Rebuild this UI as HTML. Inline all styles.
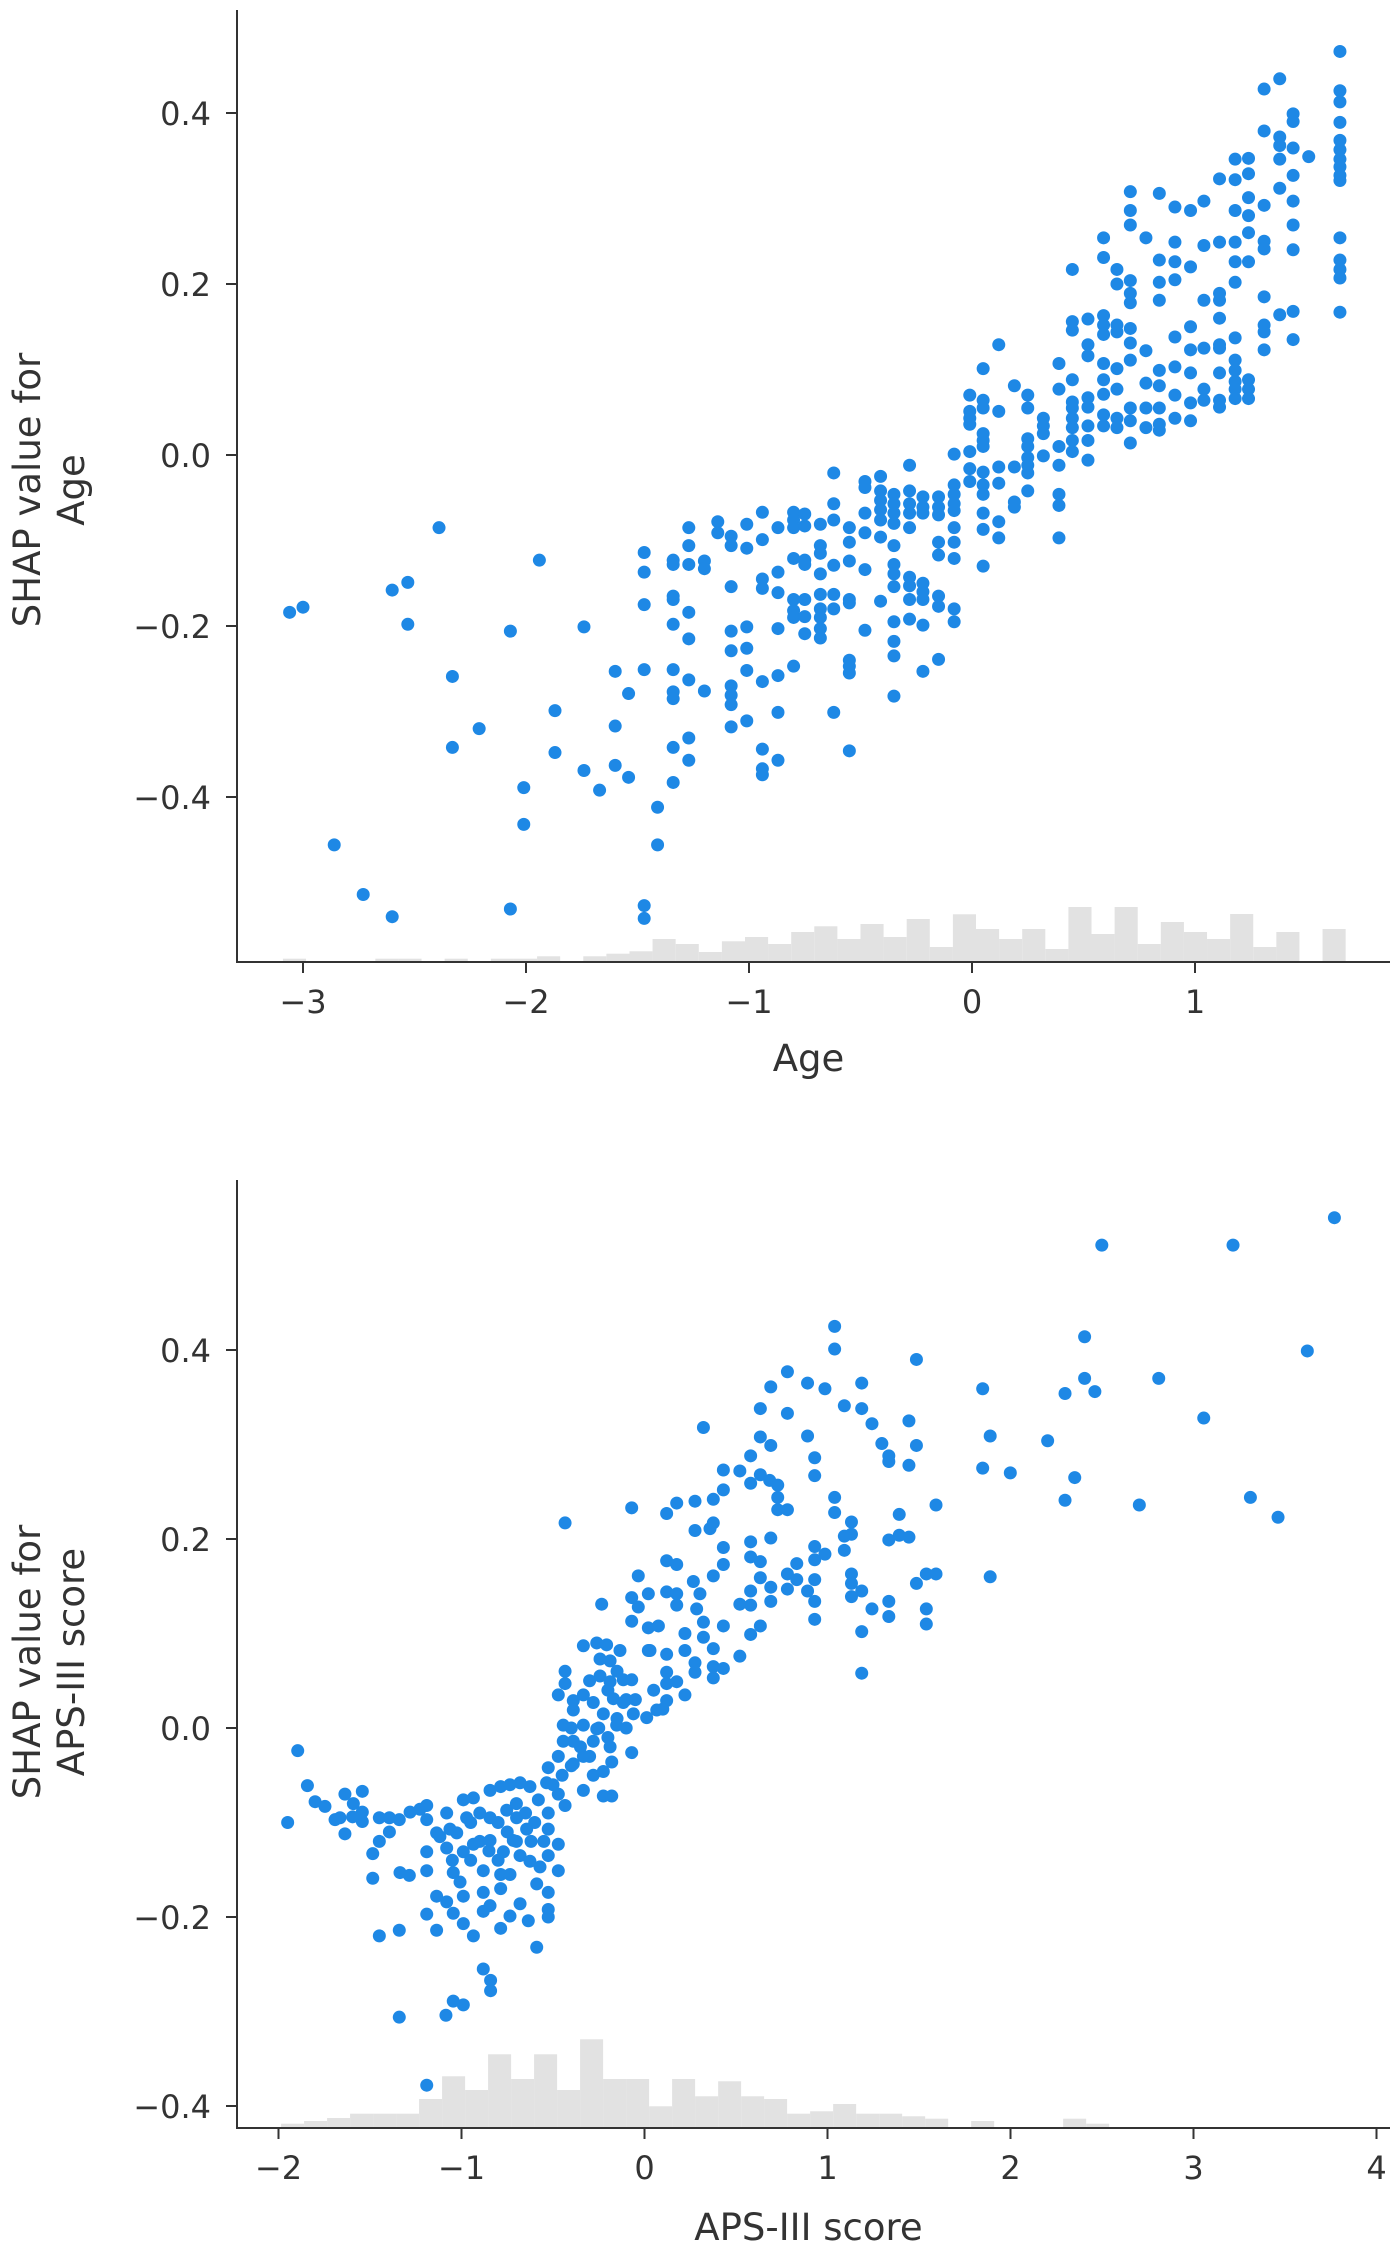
<!DOCTYPE html>
<html><head><meta charset="utf-8"><style>
html,body{margin:0;padding:0;background:#fff;}
svg{display:block;font-family:"DejaVu Sans","Liberation Sans",sans-serif;}
</style></head><body>
<svg id="fig" width="1400" height="2242" viewBox="0 0 1400 2242" xmlns="http://www.w3.org/2000/svg"></svg>
<script>
// ---------- Chart 1: Age ----------
const ageXTicks = [-3, -2, -1, 0, 1];
const ageYTicks = [0.4, 0.2, 0.0, -0.2, -0.4];
const ageHistStart = -3.09;
const ageHistWidth = 0.1036;
const ageHistCounts = [3.3,0,0.5,0.5,3.3,3.3,0,3.3,0,3.3,3.3,5.7,0,5.7,8.3,10.7,23,18,10,20.7,25,18,30,35.7,23,38,25,43,15,47.7,33,23,33,13,55,28,55,18,40,30,23,48,15,30,0,33];
const ageX = [-3.06,-3.00,-2.86,-2.73,-2.60,-2.60,-2.53,-2.53,-2.39,-2.33,-2.33,-2.21,-2.07,-2.07,-2.01,-2.01,-1.94,-1.87,-1.87,-1.74,-1.74,-1.67,-1.60,-1.60,-1.60,-1.54,-1.54,
-1.47,-1.47,-1.47,-1.47,-1.47,-1.47,-1.41,-1.41,
-1.34,-1.34,-1.34,-1.34,-1.34,-1.34,-1.34,-1.34,-1.34,-1.34,
-1.27,-1.27,-1.27,-1.27,-1.27,-1.27,-1.27,-1.27,
-1.20,-1.20,-1.20,-1.14,-1.14,
-1.08,-1.08,-1.08,-1.08,-1.08,-1.08,-1.08,-1.08,-1.08,
-1.01,-1.01,-1.01,-1.01,-1.01,-1.01,
-0.94,-0.94,-0.94,-0.94,-0.94,-0.94,-0.94,-0.94,
-0.87,-0.87,-0.87,-0.87,-0.87,-0.87,-0.87,
-0.80,-0.80,-0.80,-0.80,-0.80,-0.80,-0.80,-0.80,
-0.75,-0.75,-0.75,-0.75,-0.75,-0.75,-0.75,
-0.68,-0.68,-0.68,-0.68,-0.68,-0.68,-0.68,-0.68,-0.68,
-0.62,-0.62,-0.62,-0.62,-0.62,-0.62,-0.62,
-0.55,-0.55,-0.55,-0.55,-0.55,-0.55,-0.55,-0.55,-0.55,
-0.48,-0.48,-0.48,-0.48,-0.48,-0.48,
-0.41,-0.41,-0.41,-0.41,-0.41,-0.41,-0.41,
-0.35,-0.35,-0.35,-0.35,-0.35,-0.35,-0.35,-0.35,-0.35,-0.35,-0.35,-0.35,
-0.28,-0.28,-0.28,-0.28,-0.28,-0.28,-0.28,-0.28,-0.28,
-0.22,-0.22,-0.22,-0.22,-0.22,-0.22,-0.22,-0.22,
-0.15,-0.15,-0.15,-0.15,-0.15,-0.15,-0.15,-0.15,
-0.08,-0.08,-0.08,-0.08,-0.08,-0.08,-0.08,-0.08,-0.08,-0.08,
-0.01,-0.01,-0.01,-0.01,-0.01,-0.01,-0.01,
0.05,0.05,0.05,0.05,0.05,0.05,0.05,0.05,0.05,0.05,0.05,0.05,
0.12,0.12,0.12,0.12,0.12,0.12,
0.19,0.19,0.19,0.19,
0.25,0.25,0.25,0.25,0.25,0.25,0.25,0.25,
0.32,0.32,0.32,0.32,
0.39,0.39,0.39,0.39,0.39,0.39,0.39,
0.45,0.45,0.45,0.45,0.45,0.45,0.45,0.45,0.45,0.45,
0.52,0.52,0.52,0.52,0.52,0.52,0.52,0.52,
0.59,0.59,0.59,0.59,0.59,0.59,0.59,0.59,0.59,0.59,
0.65,0.65,0.65,0.65,0.65,0.65,0.65,0.65,
0.71,0.71,0.71,0.71,0.71,0.71,0.71,0.71,0.71,0.71,0.71,0.71,
0.78,0.78,0.78,0.78,0.78,
0.84,0.84,0.84,0.84,0.84,0.84,0.84,0.84,0.84,
0.91,0.91,0.91,0.91,0.91,0.91,0.91,0.91,
0.98,0.98,0.98,0.98,0.98,0.98,0.98,
1.04,1.04,1.04,1.04,1.04,1.04,
1.11,1.11,1.11,1.11,1.11,1.11,1.11,1.11,1.11,1.11,
1.18,1.18,1.18,1.18,1.18,1.18,1.18,1.18,1.18,1.18,1.18,1.18,
1.24,1.24,1.24,1.24,1.24,1.24,1.24,1.24,1.24,
1.31,1.31,1.31,1.31,1.31,1.31,1.31,1.31,1.31,
1.38,1.38,1.38,1.38,1.38,1.38,
1.44,1.44,1.44,1.44,1.44,1.44,1.44,1.44,1.44,
1.51,
1.65,1.65,1.65,1.65,1.65,1.65,1.65,1.65,1.65,1.65,1.65,1.65,1.65,1.65,1.65];
const ageY = [-0.184,-0.178,-0.456,-0.514,-0.158,-0.540,-0.149,-0.198,-0.085,-0.259,-0.342,-0.320,-0.206,-0.531,-0.389,-0.432,-0.123,-0.299,-0.348,-0.201,-0.369,-0.392,-0.253,-0.317,-0.363,-0.279,-0.377,
-0.114,-0.137,-0.175,-0.251,-0.527,-0.542,-0.412,-0.456,
-0.123,-0.128,-0.165,-0.169,-0.198,-0.251,-0.277,-0.285,-0.342,-0.383,
-0.085,-0.106,-0.128,-0.184,-0.215,-0.263,-0.331,-0.357,
-0.124,-0.133,-0.276,-0.078,-0.091,
-0.095,-0.106,-0.154,-0.206,-0.229,-0.270,-0.281,-0.292,-0.318,
-0.081,-0.109,-0.201,-0.226,-0.252,-0.311,
-0.067,-0.099,-0.145,-0.156,-0.265,-0.344,-0.367,-0.374,
-0.085,-0.137,-0.161,-0.203,-0.258,-0.301,-0.357,
-0.067,-0.076,-0.085,-0.121,-0.169,-0.182,-0.190,-0.247,
-0.069,-0.083,-0.123,-0.128,-0.169,-0.189,-0.209,
-0.081,-0.106,-0.115,-0.139,-0.163,-0.180,-0.190,-0.203,-0.214,
-0.021,-0.057,-0.076,-0.129,-0.163,-0.180,-0.301,
-0.085,-0.102,-0.124,-0.169,-0.173,-0.240,-0.247,-0.255,-0.346,
-0.031,-0.038,-0.068,-0.091,-0.134,-0.205,
-0.025,-0.042,-0.053,-0.064,-0.076,-0.096,-0.171,
-0.046,-0.057,-0.068,-0.080,-0.106,-0.128,-0.139,-0.154,-0.195,-0.218,-0.235,-0.282,
-0.012,-0.042,-0.057,-0.068,-0.085,-0.143,-0.153,-0.169,-0.192,
-0.049,-0.061,-0.068,-0.150,-0.160,-0.169,-0.199,-0.253,
-0.049,-0.061,-0.070,-0.102,-0.117,-0.165,-0.177,-0.239,
0.001,-0.035,-0.046,-0.057,-0.065,-0.085,-0.102,-0.121,-0.180,-0.195,
0.070,0.051,0.043,0.036,0.004,-0.016,-0.031,
0.101,0.064,0.055,0.025,0.017,0.010,-0.020,-0.035,-0.046,-0.068,-0.087,-0.130,
0.129,0.051,-0.014,-0.033,-0.078,-0.097,
0.081,-0.014,-0.055,-0.061,
0.070,0.055,0.019,0.010,-0.003,-0.012,-0.021,-0.042,
0.043,0.034,0.025,-0.001,
0.107,0.077,0.010,-0.012,-0.046,-0.059,-0.097,
0.217,0.156,0.146,0.088,0.062,0.055,0.043,0.032,0.017,0.004,
0.159,0.129,0.116,0.067,0.056,0.034,0.017,-0.006,
0.254,0.231,0.163,0.152,0.141,0.107,0.088,0.071,0.047,0.034,
0.217,0.200,0.152,0.144,0.101,0.077,0.043,0.032,
0.308,0.286,0.269,0.204,0.189,0.178,0.148,0.131,0.111,0.055,0.040,0.014,
0.254,0.122,0.084,0.055,0.032,
0.306,0.228,0.202,0.181,0.099,0.081,0.055,0.036,0.029,
0.290,0.249,0.226,0.205,0.138,0.103,0.070,0.043,
0.286,0.220,0.150,0.123,0.096,0.061,0.040,
0.297,0.245,0.181,0.125,0.077,0.064,
0.323,0.249,0.189,0.181,0.160,0.129,0.125,0.096,0.064,0.056,
0.346,0.322,0.286,0.249,0.226,0.202,0.137,0.111,0.099,0.086,0.077,0.066,
0.347,0.329,0.301,0.280,0.260,0.226,0.088,0.077,0.066,
0.428,0.379,0.292,0.250,0.241,0.185,0.152,0.144,0.123,
0.440,0.372,0.362,0.346,0.312,0.164,
0.399,0.390,0.359,0.327,0.297,0.269,0.240,0.168,0.135,
0.349,
0.472,0.426,0.413,0.389,0.368,0.357,0.346,0.337,0.327,0.321,0.254,0.228,0.217,0.207,0.167];

// ---------- Chart 2: APS-III score ----------
const apsXTicks = [-2, -1, 0, 1, 2, 3, 4];
const apsYTicks = [0.4, 0.2, 0.0, -0.2, -0.4];
const apsHistStart = -1.986;
const apsHistWidth = 0.1257;
const apsHistCounts = [4.3,7,10,14.3,14.3,14.3,29,51.7,38,73.7,49,73.7,38,88.7,49,49,21.7,49,31.7,46.7,31.7,29,14.3,16.7,24,14.3,14.3,11.7,9.3,0,7,1,0,1,9.3,4.3,0,1,1,0,1,1,1,1,1,1];
const apsX = [-1.95,-1.895,-1.842,-1.80,-1.746,-1.691,-1.637,-1.637,-1.591,-1.542,-1.542,-1.542,-1.595,-1.664,
-1.485,-1.485,-1.449,-1.449,-1.394,-1.394,-1.340,-1.336,-1.285,-1.281,-1.227,-1.190,-1.190,-1.190,-1.190,-1.190,-1.449,-1.340,-1.136,-1.136,-1.081,-1.081,-1.136,-1.081,-1.045,-0.990,-0.935,-1.118,-1.063,-1.026,-1.045,-1.008,-0.990,-0.990,-0.935,-0.972,-0.935,-0.990,-0.881,-0.881,-0.881,-0.841,-0.841,-1.045,-0.990,-1.085,-1.340,-0.844,-0.881,-0.786,-0.735,-0.680,-0.635,-0.589,-0.526,-0.526,-0.589,-0.526,-0.786,-0.786,-0.735,-0.844,-0.844,-0.844,-0.786,-0.735,-0.680,-0.626,-0.753,-0.699,-0.644,-0.717,-0.771,-0.680,-0.626,-0.571,-0.526,-0.526,-0.471,-0.471,-0.526,-0.580,-0.535,-0.471,-0.471,-0.434,-0.526,-0.444,-0.444,-0.389,-0.389,-0.334,-0.334,-0.280,-0.280,-0.225,-0.179,-0.225,-0.179,-0.188,-0.261,-0.334,-0.389,-0.389,-0.334,-0.280,-0.225,-0.170,-0.116,-0.061,0.012,0.067,0.121,-0.152,-0.070,-0.471,-0.434,-0.434,-0.334,-0.261,-0.207,-0.134,-0.243,-0.188,-0.243,-0.188,-0.116,-0.070,0.030,0.121,0.121,0.121,0.221,0.176,0.221,0.221,0.276,0.276,0.376,0.376,0.431,0.376,0.322,0.322,0.285,0.431,0.376,0.431,0.267,0.303,0.431,0.358,0.276,0.376,0.276,0.376,0.431,0.431,0.176,0.121,-0.070,-0.434,-0.234,-0.070,-0.034,-0.070,-0.034,0.021,0.021,0.076,0.121,0.176,0.121,0.176,0.176,0.021,
-0.95,-0.9,-0.85,-0.8,-0.75,-0.7,-0.65,-0.6,-0.55,-0.5,-0.45,-0.40,-0.35,-0.30,-0.25,-0.20,-0.15,-0.10,-0.05,-1.05,-0.95,-0.90,-0.80,-0.70,-0.62,-0.40,-0.30,-0.20,-0.15,-0.10,0.05,0.10,-1.19,
1.039,1.039,0.781,0.690,0.891,0.986,1.187,1.486,1.092,1.187,0.633,0.781,1.243,1.445,0.322,0.891,0.633,0.690,1.297,1.486,1.848,1.889,2.203,2.298,2.405,2.405,2.461,2.499,2.810,3.056,3.216,3.622,3.770,
0.580,0.930,1.335,1.335,1.445,0.521,0.633,0.684,0.728,0.580,0.930,1.039,1.039,0.728,0.728,0.781,1.131,1.131,1.092,1.092,1.392,1.335,1.392,1.445,1.593,1.848,1.999,2.351,2.298,2.704,3.311,3.462,0.690,0.580,0.580,0.633,0.930,0.986,0.930,0.832,0.781,0.832,0.930,0.781,0.891,0.930,0.930,1.131,1.131,1.187,1.131,1.243,1.335,1.335,1.187,1.187,1.486,1.540,1.593,1.540,1.540,1.889,0.690,0.690,0.633,0.580,0.580,0.521,0.633,0.580,0.521];
const apsY = [-0.100,-0.024,-0.061,-0.078,-0.083,-0.097,-0.070,-0.112,-0.080,-0.067,-0.089,-0.099,-0.094,-0.095,
-0.133,-0.159,-0.120,-0.095,-0.095,-0.110,-0.097,-0.153,-0.156,-0.089,-0.086,-0.082,-0.097,-0.131,-0.151,-0.197,-0.220,-0.214,-0.214,-0.111,-0.090,-0.127,-0.178,-0.184,-0.196,-0.207,-0.220,-0.115,-0.107,-0.111,-0.153,-0.163,-0.178,-0.076,-0.074,-0.095,-0.123,-0.131,-0.151,-0.174,-0.255,-0.267,-0.278,-0.289,-0.293,-0.304,-0.306,-0.188,-0.194,-0.212,-0.199,-0.186,-0.204,-0.232,-0.192,-0.200,-0.165,-0.174,-0.170,-0.155,-0.155,-0.119,-0.095,-0.066,-0.062,-0.060,-0.058,-0.062,-0.087,-0.095,-0.107,-0.119,-0.131,-0.135,-0.141,-0.147,-0.135,-0.107,-0.123,-0.151,-0.090,-0.076,-0.058,-0.070,-0.030,-0.082,-0.042,0.003,-0.014,-0.014,-0.038,-0.030,-0.066,-0.050,-0.014,-0.046,-0.072,-0.072,-0.036,-0.020,-0.001,0.003,0.019,0.029,0.035,0.027,0.015,0.031,0.027,0.015,0.011,0.019,0.029,0.003,-0.026,0.035,0.047,0.060,0.087,0.090,0.088,0.082,0.073,0.071,0.055,0.049,0.051,0.051,0.082,0.078,0.059,0.047,0.035,0.049,0.082,0.100,0.059,0.069,0.053,0.065,0.063,0.084,0.096,0.112,0.126,0.108,0.161,0.173,0.155,0.142,0.191,0.211,0.209,0.217,0.240,0.242,0.252,0.273,0.238,0.227,0.233,0.217,0.131,0.138,0.128,0.113,0.161,0.142,0.106,0.108,0.177,0.173,0.144,0.142,0.130,0.082,
-0.10,-0.12,-0.13,-0.10,-0.11,-0.08,-0.09,-0.10,-0.12,-0.06,-0.05,-0.04,-0.02,-0.03,0.00,-0.01,0.01,0.00,0.03,-0.14,-0.14,-0.09,-0.14,-0.12,-0.12,0.00,0.05,0.04,0.06,0.03,0.04,0.02,-0.378,
0.425,0.401,0.377,0.361,0.365,0.359,0.365,0.390,0.341,0.338,0.338,0.333,0.322,0.325,0.318,0.309,0.308,0.299,0.301,0.299,0.359,0.309,0.304,0.354,0.414,0.370,0.356,0.511,0.370,0.328,0.511,0.399,0.540,
0.288,0.286,0.288,0.282,0.278,0.272,0.268,0.262,0.257,0.259,0.267,0.244,0.228,0.244,0.231,0.231,0.218,0.205,0.203,0.188,0.226,0.199,0.204,0.202,0.236,0.275,0.270,0.265,0.241,0.236,0.244,0.223,0.201,0.197,0.181,0.176,0.192,0.184,0.178,0.174,0.163,0.157,0.157,0.147,0.145,0.134,0.115,0.163,0.153,0.145,0.139,0.126,0.134,0.118,0.102,0.058,0.153,0.163,0.163,0.126,0.110,0.160,0.149,0.134,0.159,0.145,0.130,0.131,0.108,0.099,0.076];

const NS = "http://www.w3.org/2000/svg";
const svg = document.getElementById('fig');
function mk(tag, attrs, parent) {
  const e = document.createElementNS(NS, tag);
  for (const k in attrs) e.setAttribute(k, attrs[k]);
  (parent || svg).appendChild(e);
  return e;
}
function fmtTick(v, dec) {
  const s = Math.abs(v).toFixed(dec);
  return (v < -1e-9 ? "\u2212" : "") + s;
}

function drawChart(cfg) {
  const g = mk('g', {});
  
  
  const sx = v => cfg.x0 + v * cfg.xUnit;
  const sy = v => cfg.y0 - v * cfg.yUnit;
  const hg = mk('g', {}, g);
  
  
  const maxC = Math.max(...cfg.histCounts);
  cfg.histCounts.forEach((c, i) => {
    if (c <= 0) return;
    const xa = sx(cfg.histStart + i * cfg.histWidth);
    const xb = sx(cfg.histStart + (i + 1) * cfg.histWidth);
    const h = c / maxC * cfg.histMaxPx;
    const r = mk('rect', {x: xa, y: cfg.bottom - h, width: xb - xa, height: h, fill: '#e2e2e2'}, hg);
    
    
  });
  const pg = mk('g', {}, g);
  
  
  cfg.xs.forEach((xv, i) => {
    const c = mk('circle', {cx: sx(xv), cy: sy(cfg.ys[i]), r: 6.5, fill: '#1E88E5'}, pg);
    
    
  });
  const ya = mk('line', {x1: cfg.left, y1: cfg.top, x2: cfg.left, y2: cfg.bottom, stroke: '#333', 'stroke-width': 2}, g);
  
  
  const xa = mk('line', {x1: cfg.left - 1, y1: cfg.bottom, x2: cfg.right, y2: cfg.bottom, stroke: '#333', 'stroke-width': 2}, g);
  
  
  cfg.xTicks.forEach(t => {
    const x = sx(t);
    const tk = mk('line', {x1: x, y1: cfg.bottom, x2: x, y2: cfg.bottom + 11, stroke: '#333', 'stroke-width': 2}, g);
    
    
    const tx = mk('text', {x: x, y: cfg.bottom + 51, 'text-anchor': 'middle', 'font-size': 32, fill: '#333'}, g);
    tx.textContent = fmtTick(t, 0);
    
    
  });
  cfg.yTicks.forEach(t => {
    const y = sy(t);
    const tk = mk('line', {x1: cfg.left - 11, y1: y, x2: cfg.left, y2: y, stroke: '#333', 'stroke-width': 2}, g);
    
    
    const tx = mk('text', {x: cfg.left - 26, y: y + 12, 'text-anchor': 'end', 'font-size': 32, fill: '#333'}, g);
    tx.textContent = fmtTick(t, 1);
    
    
  });
  const xt = mk('text', {x: (cfg.left + cfg.right) / 2 - 5, y: cfg.xTitleY, 'text-anchor': 'middle', 'font-size': 37, fill: '#333'}, g);
  xt.textContent = cfg.xTitle;
  
  
  const yt = mk('text', {transform: `translate(40,${cfg.yTitleY}) rotate(-90)`, 'text-anchor': 'middle', 'font-size': 37, fill: '#333'}, g);
  
  
  const t1 = mk('tspan', {x: 0, dy: 0}, yt); t1.textContent = cfg.yTitle1;
  const t2 = mk('tspan', {x: 0, dy: 44}, yt); t2.textContent = cfg.yTitle2;
}

drawChart({name: 'age-dependence-chart', left: 237, right: 1390, top: 10, bottom: 962,
  x0: 972, xUnit: 223, y0: 455, yUnit: 855,
  xs: ageX, ys: ageY, xTicks: ageXTicks, yTicks: ageYTicks,
  histStart: ageHistStart, histWidth: ageHistWidth, histCounts: ageHistCounts, histMaxPx: 55,
  xTitle: 'Age', xTitleY: 1071, yTitleY: 490, yTitle1: 'SHAP value for', yTitle2: 'Age'});

drawChart({name: 'aps-iii-dependence-chart', left: 237, right: 1390, top: 1180, bottom: 2128,
  x0: 644.5, xUnit: 183, y0: 1728, yUnit: 945,
  xs: apsX, ys: apsY, xTicks: apsXTicks, yTicks: apsYTicks,
  histStart: apsHistStart, histWidth: apsHistWidth, histCounts: apsHistCounts, histMaxPx: 88.7,
  xTitle: 'APS-III score', xTitleY: 2240, yTitleY: 1662, yTitle1: 'SHAP value for', yTitle2: 'APS-III score'});
</script>
</body></html>
